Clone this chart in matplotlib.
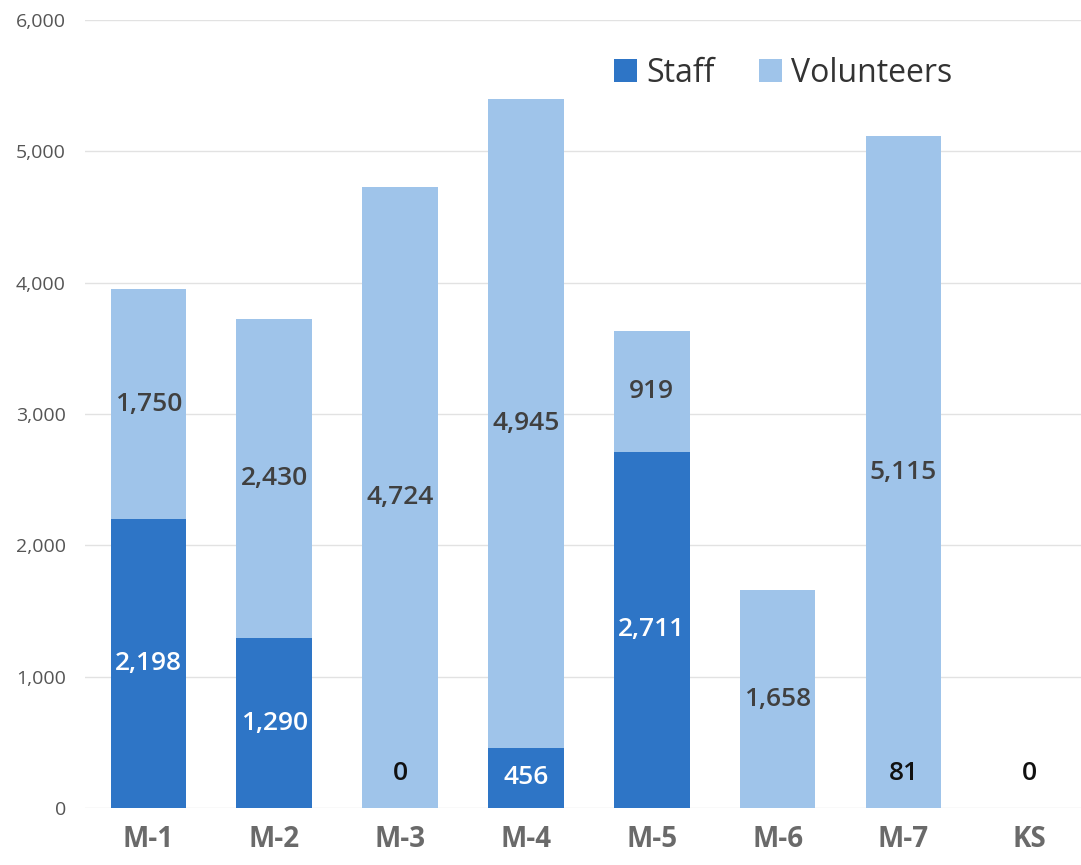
import matplotlib.pyplot as plt
import numpy as np
from matplotlib.ticker import FuncFormatter

plt.rcParams['font.family'] = ['Open Sans', 'DejaVu Sans']

categories = ['M-1', 'M-2', 'M-3', 'M-4', 'M-5', 'M-6', 'M-7', 'KS']
staff = [2198, 1290, 0, 456, 2711, np.nan, 0, 0]
volunteers = [1750, 2430, 4724, 4945, 919, 1658, 5115, np.nan]
# small values shown in dark text near the base of the bar
base_notes = [None, None, 0, None, None, None, 81, 0]

STAFF_COLOR = '#2e75c6'
VOL_COLOR = '#9fc4ea'

fig = plt.figure(figsize=(10.81, 8.65), dpi=100)
ax = fig.add_axes([0.079, 0.066, 0.921, 0.911])

x = np.arange(len(categories))
s = np.nan_to_num(staff)
v = np.nan_to_num(volunteers)
ax.bar(x, s, width=0.6, color=STAFF_COLOR, label='Staff', zorder=2)
ax.bar(x, v, width=0.6, bottom=s, color=VOL_COLOR, label='Volunteers', zorder=2)

# data labels
for i in range(len(categories)):
    if s[i] > 300:
        ax.text(x[i], s[i] / 2, f'{int(s[i]):,}', ha='center', va='center',
                fontsize=19, color='white', fontweight='semibold', zorder=3)
    if base_notes[i] is not None:
        ax.text(x[i], 260, f'{base_notes[i]:,}', ha='center', va='center',
                fontsize=19, color='#111111', fontweight='semibold', zorder=3)
    if not np.isnan(volunteers[i]):
        ax.text(x[i], s[i] + volunteers[i] / 2, f'{int(volunteers[i]):,}',
                ha='center', va='center', fontsize=19, color='#404040',
                fontweight='semibold', zorder=3)

ax.set_ylim(0, 6000)
ax.set_xlim(-0.5, 7.41)
ax.set_yticks(range(0, 6001, 1000))
ax.yaxis.set_major_formatter(FuncFormatter(lambda y, p: f'{int(y):,}'))
ax.set_xticks(x)
ax.set_xticklabels(categories, fontsize=20, fontweight='bold', color='#6a6a6a')
ax.tick_params(axis='y', labelsize=14, labelcolor='#555555', length=0, pad=14)
ax.tick_params(axis='x', length=0, pad=12)
ax.grid(axis='y', color='#e2e2e2', linewidth=1, zorder=0)
for sp in ax.spines.values():
    sp.set_visible(False)

ax.legend(loc='upper right', bbox_to_anchor=(0.9, 0.99), ncol=2, frameon=False,
          fontsize=23, handlelength=0.7, handleheight=0.7, handletextpad=0.3,
          columnspacing=1.4, labelcolor='#333333')

fig.savefig('out.png', dpi=100)
